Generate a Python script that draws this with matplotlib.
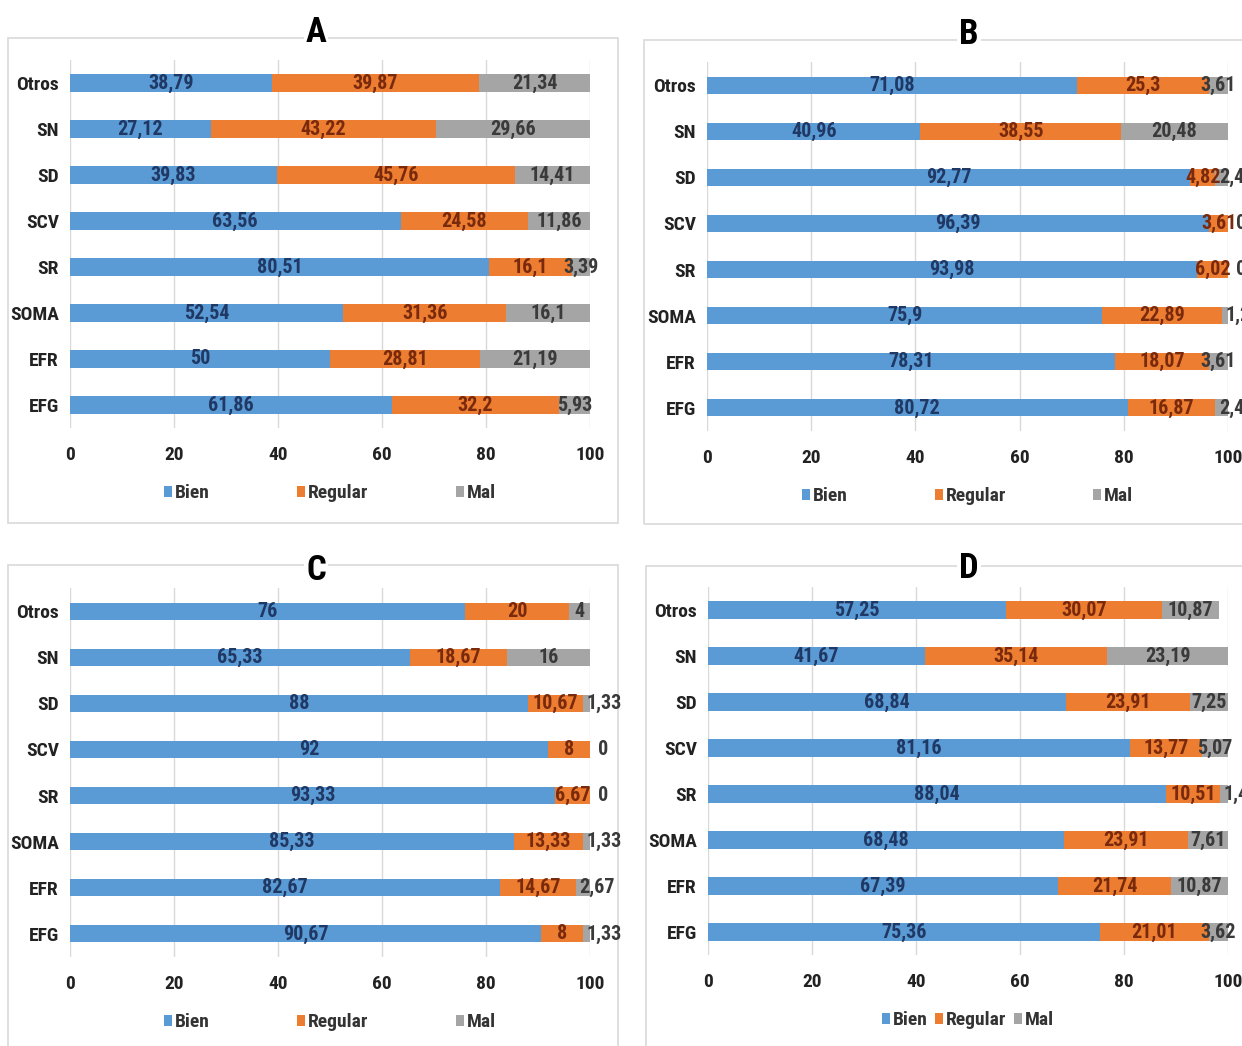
import matplotlib
matplotlib.use('Agg')
import matplotlib.pyplot as plt
from matplotlib import font_manager
from matplotlib.patches import Rectangle, Patch
import numpy as np

# Categorias (de abajo hacia arriba, como en el grafico)
categorias = ['EFG', 'EFR', 'SOMA', 'SR', 'SCV', 'SD', 'SN', 'Otros']
series = ['Bien', 'Regular', 'Mal']

# Panel A
a_bien = [61.86, 50, 52.54, 80.51, 63.56, 39.83, 27.12, 38.79]
a_regular = [32.2, 28.81, 31.36, 16.1, 24.58, 45.76, 43.22, 39.87]
a_mal = [5.93, 21.19, 16.1, 3.39, 11.86, 14.41, 29.66, 21.34]

# Panel B
b_bien = [80.72, 78.31, 75.9, 93.98, 96.39, 92.77, 40.96, 71.08]
b_regular = [16.87, 18.07, 22.89, 6.02, 3.61, 4.82, 38.55, 25.3]
b_mal = [2.41, 3.61, 1.21, 0, 0, 2.41, 20.48, 3.61]

# Panel C
c_bien = [90.67, 82.67, 85.33, 93.33, 92, 88, 65.33, 76]
c_regular = [8, 14.67, 13.33, 6.67, 8, 10.67, 18.67, 20]
c_mal = [1.33, 2.67, 1.33, 0, 0, 1.33, 16, 4]

# Panel D
d_bien = [75.36, 67.39, 68.48, 88.04, 81.16, 68.84, 41.67, 57.25]
d_regular = [21.01, 21.74, 23.91, 10.51, 13.77, 23.91, 35.14, 30.07]
d_mal = [3.62, 10.87, 7.61, 1.45, 5.07, 7.25, 23.19, 10.87]

colores = ['#5B9BD5', '#ED7D31', '#A5A5A5']
colores_txt = ['#1F3864', '#7A2A0C', '#3A3A3A']

# buscar una fuente condensada
fuentes = font_manager.fontManager.ttflist
nombres = {f.name for f in fuentes}
estira = 'normal'
k = 0.8
fuente = 'DejaVu Sans'
for cand in ['Liberation Sans Narrow', 'Roboto Condensed', 'Open Sans Condensed',
             'DejaVu Sans Condensed', 'Noto Sans Condensed']:
    if cand in nombres:
        fuente = cand
        k = 1.0
        break
else:
    for f in fuentes:
        if f.stretch in ('condensed', 'semi-condensed', 'extra-condensed') or \
                (isinstance(f.stretch, int) and f.stretch < 500):
            fuente = f.name
            estira = f.stretch
            k = 0.92
            break

plt.rcParams['font.family'] = [fuente, 'DejaVu Sans']
plt.rcParams['font.weight'] = 'bold'
plt.rcParams['font.stretch'] = estira

W, H = 1242, 1046
fig = plt.figure(figsize=(W / 100, H / 100), dpi=100)


def px(x0, y0, x1, y1):
    # caja en pixeles (origen arriba-izquierda) -> fraccion de figura
    return [x0 / W, 1 - y1 / H, (x1 - x0) / W, (y1 - y0) / H]


def fmt(v):
    return ('%g' % v).replace('.', ',')


paneles = [
    ('A', [a_bien, a_regular, a_mal], (70, 60, 590, 428), (8, 38, 618, 523), 316, 33, 4.5),
    ('B', [b_bien, b_regular, b_mal], (707, 62, 1228, 431), (644, 40, 1300, 524), 969, 34, 4.5),
    ('C', [c_bien, c_regular, c_mal], (70, 588, 590, 957), (8, 565, 618, 1100), 316, 571, 4.5),
    ('D', [d_bien, d_regular, d_mal], (708, 587, 1228, 955), (646, 566, 1300, 1100), 969, 569, 0.4),
]

for letra, datos, pos_ax, pos_caja, tx, ty, colsp in paneles:
    # marco del grafico
    c = px(*pos_caja)
    fig.add_artist(Rectangle(c[:2], c[2], c[3], transform=fig.transFigure, fill=False,
                             edgecolor='#D9D9D9', linewidth=1.2, zorder=0))

    ax = fig.add_axes(px(*pos_ax))
    y = np.arange(len(categorias))
    izq = np.zeros(len(categorias))
    for i, vals in enumerate(datos):
        vals = np.array(vals, dtype=float)
        ax.barh(y, vals, left=izq, height=0.37, color=colores[i], zorder=2)
        for j, v in enumerate(vals):
            if i == 2 and v == 0:
                ax.annotate(fmt(v), (izq[j] + v, y[j]), xytext=(6, 0),
                            textcoords='offset points', ha='left', va='center',
                            fontsize=14.5 * k, color=colores_txt[i],
                            annotation_clip=False, zorder=3)
            elif i == 2 and v < 3:
                ax.annotate(fmt(v), (izq[j], y[j]), xytext=(2.5, 0),
                            textcoords='offset points', ha='left', va='center',
                            fontsize=14.5 * k, color=colores_txt[i],
                            annotation_clip=False, zorder=3)
            else:
                ax.text(izq[j] + v / 2, y[j], fmt(v), ha='center', va='center',
                        fontsize=14.5 * k, color=colores_txt[i], zorder=3,
                        clip_on=False)
        izq = izq + vals

    ax.set_xlim(0, 100)
    ax.set_ylim(-0.5, len(categorias) - 0.5)
    ax.set_xticks(np.arange(0, 101, 20))
    ax.set_yticks(y)
    ax.set_yticklabels(categorias)
    ax.grid(axis='x', color='#D9D9D9', linewidth=1.0, zorder=0)
    ax.set_axisbelow(True)
    for s in ax.spines.values():
        s.set_visible(False)
    ax.tick_params(axis='both', length=0, labelsize=14 * k, colors='#222222')
    ax.tick_params(axis='x', pad=13)
    ax.tick_params(axis='y', pad=8)

    handles = [Patch(facecolor=col) for col in colores]
    ax.legend(handles, series, loc='center', bbox_to_anchor=(0.5, -0.177),
              ncol=3, frameon=False, fontsize=14 * k, handlelength=0.4,
              handleheight=0.5, handletextpad=0.15, columnspacing=colsp,
              labelcolor='#333333')

    fig.text(tx / W, 1 - ty / H, letra, ha='center', va='center',
             fontsize=25 * k, fontweight='bold', color='black',
             bbox=dict(facecolor='white', edgecolor='none', pad=1.5))

fig.savefig('out.png', dpi=100)
